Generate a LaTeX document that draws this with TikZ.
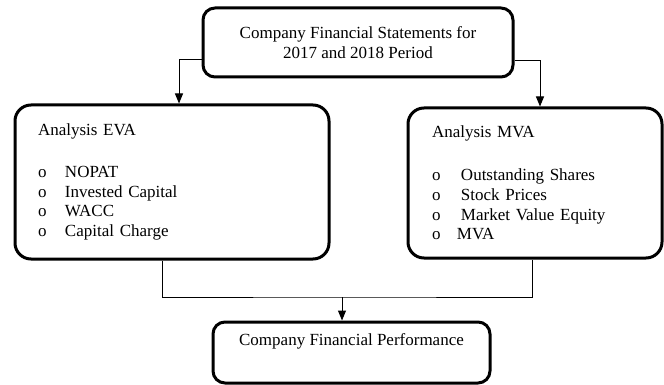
\documentclass[tikz,border=0pt]{standalone}
\usepackage{fontspec}
\setmainfont{Liberation Serif}
\usetikzlibrary{arrows.meta,positioning}

\newcommand{\bul}[1][27pt]{\makebox[#1][l]{o}}

\begin{document}
\begin{tikzpicture}[
  x=1pt, y=-1pt,
  font=\fontsize{17}{19.75}\selectfont,
  box/.style={rectangle, draw, line width=3pt, rounded corners=12pt, align=center, inner sep=0pt},
  listbox/.style={box, rounded corners=16pt, align=left},
  arr/.style={-{Triangle[length=10pt, width=8pt]}, line width=1pt},
  link/.style={line width=1pt}
]
\useasboundingbox (0,0) rectangle (664,385);

\node[box, minimum width=310pt, minimum height=69pt] (top) at (358,42.5) {Company Financial Statements for\\2017 and 2018 Period};
\node[listbox, text width=268pt, inner xsep=23pt, minimum height=154pt] (eva) at (172,182)
  {Analysis EVA\\[22pt]\bul NOPAT\\\bul Invested Capital\\\bul WACC\\\bul Capital Charge};
\node[listbox, text width=206pt, inner xsep=24pt, minimum height=150pt] (mva) at (535,183)
  {Analysis MVA\\[23pt]\bul[29pt]Outstanding Shares\\\bul[29pt]Stock Prices\\\bul[29pt]Market Value Equity\\\bul[25pt]MVA};
\node[box, minimum width=277pt, minimum height=61pt] (perf) at (351.5,352.5) {Company Financial Performance\\\strut};
\coordinate (join) at (342,297);

\draw[arr] ([yshift=-17.5pt]top.west) -| ([xshift=7pt]eva.north);
\draw[arr] ([yshift=-18.5pt]top.east) -| ([xshift=5pt]mva.north);
\draw[link] ([xshift=-10pt]eva.south) |- (join) -| ([xshift=-3pt]mva.south);
\draw[arr] (join) -- (join |- perf.north);
\end{tikzpicture}
\end{document}
